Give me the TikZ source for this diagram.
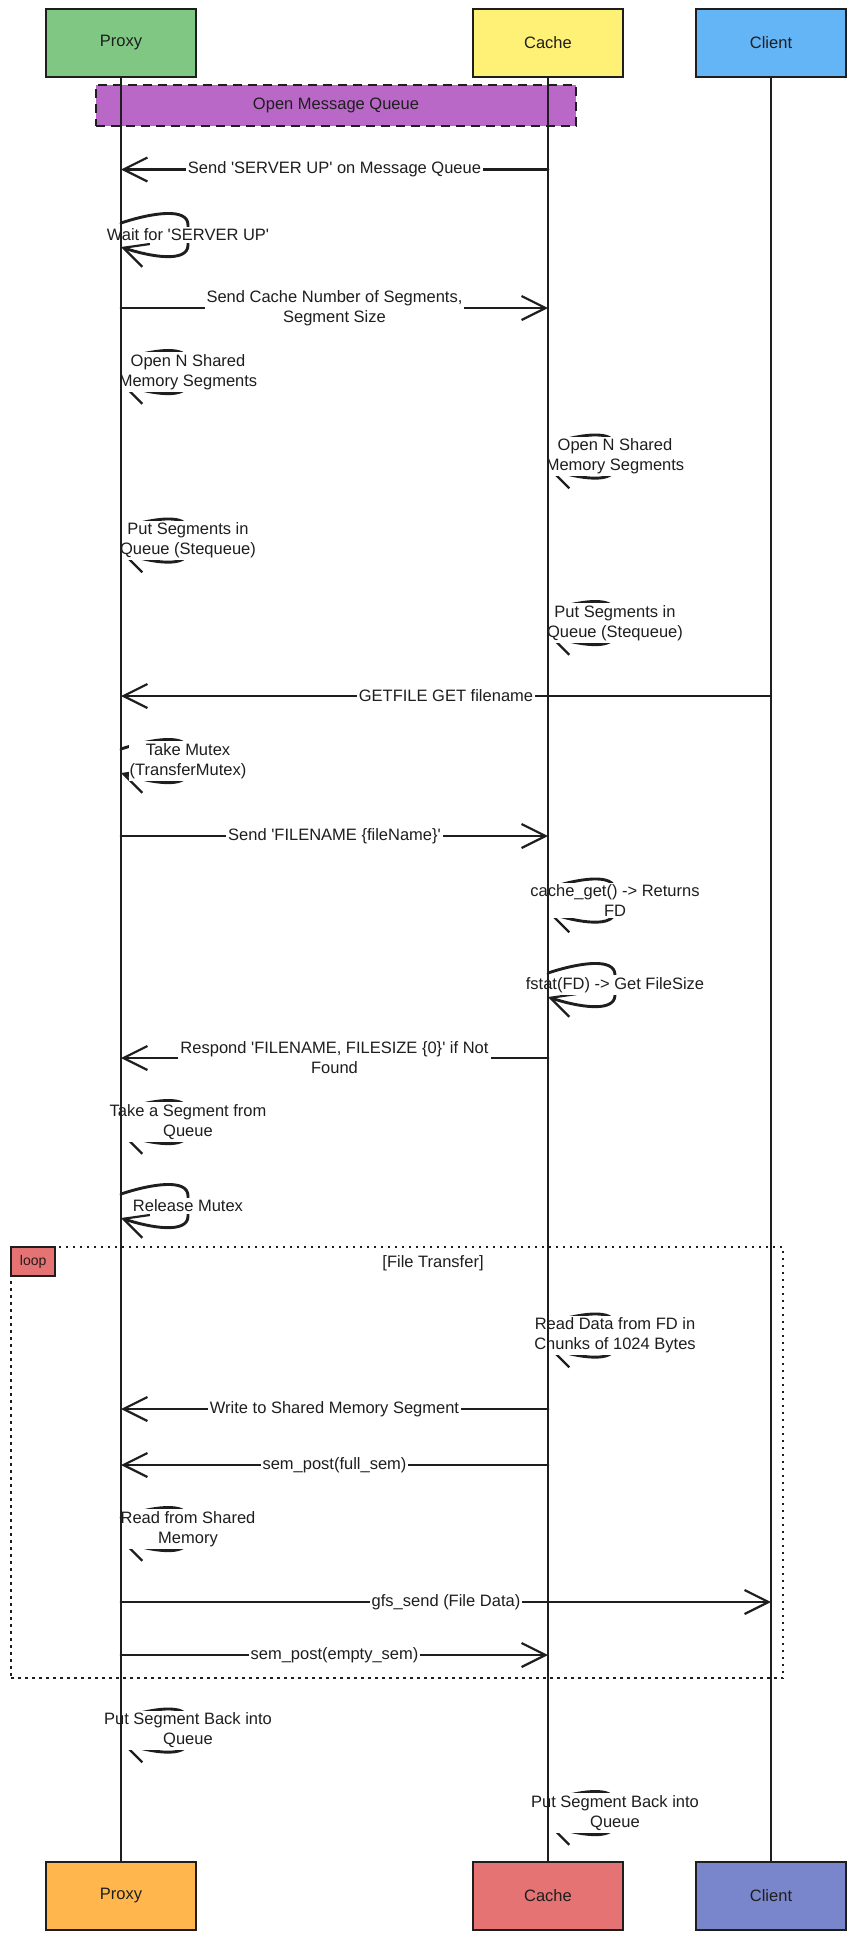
\documentclass[tikz,border=0pt]{standalone}
\usepackage{fontspec}
\setmainfont{Liberation Sans}
\usepackage{tikz}
\usetikzlibrary{calc,arrows.meta}
\definecolor{ink}{HTML}{1E1E1E}
\definecolor{proxytop}{HTML}{81C784}
\definecolor{cachetop}{HTML}{FFF176}
\definecolor{clienttop}{HTML}{64B5F6}
\definecolor{proxybot}{HTML}{FFB74D}
\definecolor{cachebot}{HTML}{E57373}
\definecolor{clientbot}{HTML}{7986CB}
\definecolor{mqfill}{HTML}{BA68C8}
\newcommand{\q}{\textquotesingle}
\tikzset{
  txt/.style={text=ink, font=\fontsize{16.5}{20}\selectfont},
  actor/.style={txt, draw=ink, line width=2.6pt, minimum width=150pt, minimum height=68pt},
  life/.style={draw=ink, line width=1.2pt},
  msg/.style={draw=ink, line width=2.9pt, line cap=round,
    -{Straight Barb[length=24pt,width=24pt,line width'=2.2pt]}},
  lab/.style={txt, fill=white, inner sep=2pt, align=center},
  note/.style={lab, inner xsep=1pt, inner ysep=2pt},
  mq/.style={txt, fill=mqfill, draw=ink, line width=2.4pt, dash pattern=on 9pt off 6pt,
    minimum width=480pt, minimum height=41pt},
  loopframe/.style={draw=ink, line width=2.4pt, dash pattern=on 2.4pt off 4.6pt,
    minimum width=772pt, minimum height=431pt, anchor=north west},
  looptag/.style={txt, font=\fontsize{14}{16}\selectfont, fill=cachebot, draw=ink, line width=2.4pt,
    minimum width=44pt, minimum height=29pt, inner sep=0pt, anchor=north west},
}
\newcommand{\selfmsg}[2]{%
  \draw[msg] ($(#1)+(0,-12)$) .. controls +(30,-10) and +(0,-18) .. ($(#1)+(67,-10)$)
    -- ($(#1)+(67,10)$) .. controls +(0,18) and +(30,10) .. ($(#1)+(0,12)$);
  \node[note] (#1-lab) at ($(#1)+(67,0)$) {#2};}

\begin{document}
\begin{tikzpicture}[x=1pt,y=-1pt]
  \useasboundingbox (0,0) rectangle (856,1941);

  % participants
  \node[actor, fill=proxytop] (proxyT) at (121,43) {Proxy};
  \node[actor, fill=cachetop] (cacheT) at (548,43) {Cache};
  \node[actor, fill=clienttop] (clientT) at (771,43) {Client};
  \node[actor, fill=proxybot] (proxyB) at (121,1896) {Proxy};
  \node[actor, fill=cachebot] (cacheB) at (548,1896) {Cache};
  \node[actor, fill=clientbot] (clientB) at (771,1896) {Client};

  \node[mq] (openmq) at (336,105.5) {Open Message Queue};

  % loop block
  \node[loopframe] (transfer) at (10,1246) {};
  \node[looptag] (looptag) at (10,1246) {loop};
  \node[txt] (transferlab) at (433,1263) {[File Transfer]};

  % message rows
  \foreach \n/\y in {up/169.5, seg/308, get/696, fname/836, resp/1058,
                     write/1409, full/1465, gfs/1602, empty/1655}{
    \coordinate (p-\n) at (121,\y);
    \coordinate (c-\n) at (548,\y);
    \coordinate (k-\n) at (771,\y);
  }
  \foreach \n/\x/\y in {wait/121/235, openp/121/372, openc/548/456.5, putp/121/540.5,
                        putc/548/623, mutex/121/761, cget/548/900.5, fstat/548/985,
                        take/121/1122, release/121/1206, read/548/1335.5,
                        readm/121/1529, backp/121/1730.5, backc/548/1813}
    \coordinate (s-\n) at (\x,\y);

  \draw[msg] (c-up) -- node[lab] (l-up) {Send \q SERVER UP\q{} on Message Queue} (p-up);
  \draw[msg] (p-seg) -- node[lab] (l-seg) {Send Cache Number of Segments,\\Segment Size} (c-seg);
  \draw[msg] (k-get) -- node[lab] (l-get) {GETFILE GET filename} (p-get);
  \draw[msg] (p-fname) -- node[lab] (l-fname) {Send \q FILENAME \{fileName\}\q} (c-fname);
  \draw[msg] (c-resp) -- node[lab] (l-resp) {Respond \q FILENAME, FILESIZE \{0\}\q{} if Not\\Found} (p-resp);
  \draw[msg] (c-write) -- node[lab] (l-write) {Write to Shared Memory Segment} (p-write);
  \draw[msg] (c-full) -- node[lab] (l-full) {sem\_post(full\_sem)} (p-full);
  \draw[msg] (p-gfs) -- node[lab] (l-gfs) {gfs\_send (File Data)} (k-gfs);
  \draw[msg] (p-empty) -- node[lab] (l-empty) {sem\_post(empty\_sem)} (c-empty);

  % self messages
  \selfmsg{s-wait}{Wait for \q SERVER UP\q}
  \selfmsg{s-openp}{Open N Shared\\Memory Segments}
  \selfmsg{s-openc}{Open N Shared\\Memory Segments}
  \selfmsg{s-putp}{Put Segments in\\Queue (Stequeue)}
  \selfmsg{s-putc}{Put Segments in\\Queue (Stequeue)}
  \selfmsg{s-mutex}{Take Mutex\\(TransferMutex)}
  \selfmsg{s-cget}{cache\_get() -> Returns\\FD}
  \selfmsg{s-fstat}{fstat(FD) -> Get FileSize}
  \selfmsg{s-take}{Take a Segment from\\Queue}
  \selfmsg{s-release}{Release Mutex}
  \selfmsg{s-read}{Read Data from FD in\\Chunks of 1024 Bytes}
  \selfmsg{s-readm}{Read from Shared\\Memory}
  \selfmsg{s-backp}{Put Segment Back into\\Queue}
  \selfmsg{s-backc}{Put Segment Back into\\Queue}

  % lifelines
  \draw[life] (proxyT.south) -- (proxyB.north);
  \draw[life] (cacheT.south) -- (cacheB.north);
  \draw[life] (clientT.south) -- (clientB.north);
\end{tikzpicture}
\end{document}
